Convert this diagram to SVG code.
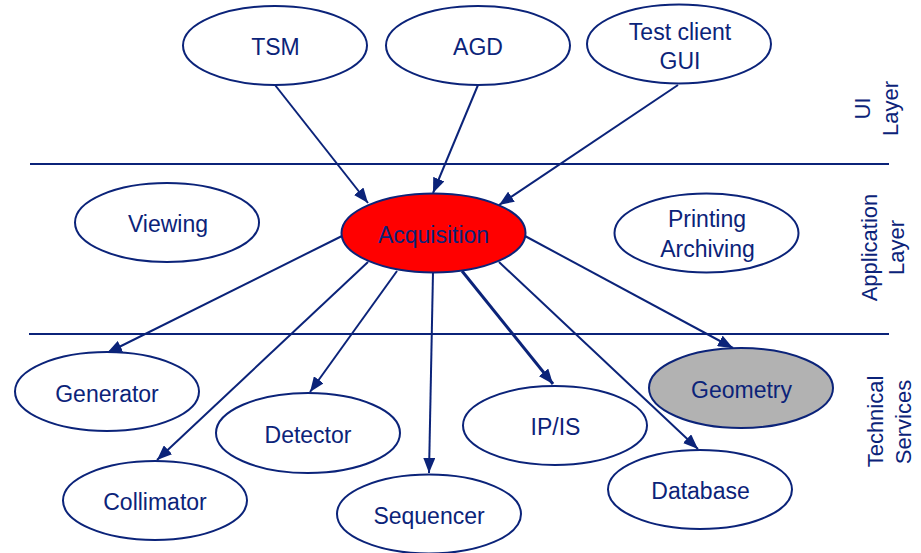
<svg xmlns="http://www.w3.org/2000/svg" width="921" height="553" viewBox="0 0 921 553">
  <style>
    .node ellipse { fill: #ffffff; stroke: #0b2379; stroke-width: 2; }
    .label { font-family: "Liberation Sans", Arial, sans-serif; font-size: 23px; fill: #0b2379; text-anchor: middle; }
    .side { font-family: "Liberation Sans", Arial, sans-serif; font-size: 22px; fill: #0b2379; text-anchor: middle; }
    .divider { stroke: #0b2379; stroke-width: 2; }
    .edge { stroke: #0b2379; stroke-width: 2; fill: none; marker-end: url(#arrow); }
  </style>
  <defs>
    <marker id="arrow" viewBox="0 0 15 12" refX="15" refY="6" markerWidth="15" markerHeight="12" markerUnits="userSpaceOnUse" orient="auto">
      <path d="M0,0 L15,6 L0,12 z" fill="#0b2379"/>
    </marker>
  </defs>

  <rect width="921" height="553" fill="#ffffff"/>

  <!-- layer dividers -->
  <g id="dividers">
    <line class="divider" x1="30" y1="164" x2="889" y2="164"/>
    <line class="divider" x1="29" y1="334" x2="889" y2="334"/>
  </g>

  <!-- layer names -->
  <g id="layer-labels">
    <text class="side" transform="translate(870,108.5) rotate(-90)">UI</text>
    <text class="side" transform="translate(898,108.5) rotate(-90)">Layer</text>
    <text class="side" transform="translate(877,247.5) rotate(-90)">Application</text>
    <text class="side" transform="translate(904,247.5) rotate(-90)">Layer</text>
    <text class="side" transform="translate(883,421.5) rotate(-90)">Technical</text>
    <text class="side" transform="translate(911,422) rotate(-90)">Services</text>
  </g>

  <!-- connectors -->
  <g id="connectors">
    <line class="edge" x1="275" y1="85" x2="368" y2="203"/>
    <line class="edge" x1="478" y1="85" x2="433" y2="193"/>
    <line class="edge" x1="678" y1="85" x2="499" y2="205"/>
    <line class="edge" x1="342" y1="236" x2="107" y2="353"/>
    <line class="edge" x1="368" y1="262" x2="157" y2="460"/>
    <line class="edge" x1="397" y1="271" x2="310" y2="392"/>
    <line class="edge" x1="433" y1="272" x2="429" y2="473"/>
    <line class="edge" x1="462" y1="271" x2="553" y2="384" style="stroke-width:3"/>
    <line class="edge" x1="499" y1="262" x2="698" y2="449"/>
    <line class="edge" x1="525" y1="236" x2="733" y2="348"/>
  </g>

  <!-- UI layer -->
  <g id="tsm" class="node">
    <ellipse cx="275" cy="45.5" rx="92" ry="39.5"/>
    <text class="label" x="275.5" y="55">TSM</text>
  </g>
  <g id="agd" class="node">
    <ellipse cx="478" cy="45.5" rx="92" ry="39.5"/>
    <text class="label" x="478" y="55">AGD</text>
  </g>
  <g id="test-client-gui" class="node">
    <ellipse cx="679" cy="44" rx="92" ry="39.5"/>
    <text class="label" x="680" y="40">Test client</text>
    <text class="label" x="680" y="69">GUI</text>
  </g>

  <!-- application layer -->
  <g id="viewing" class="node">
    <ellipse cx="167" cy="222.5" rx="92" ry="39.5"/>
    <text class="label" x="168" y="232">Viewing</text>
  </g>
  <g id="acquisition" class="node">
    <ellipse cx="433.5" cy="233" rx="92" ry="39.5" style="fill:#ff0000"/>
    <text class="label" x="433.5" y="243">Acquisition</text>
  </g>
  <g id="printing-archiving" class="node">
    <ellipse cx="706.5" cy="233" rx="92" ry="39.5"/>
    <text class="label" x="707" y="227">Printing</text>
    <text class="label" x="707.5" y="257">Archiving</text>
  </g>

  <!-- technical services -->
  <g id="generator" class="node">
    <ellipse cx="107" cy="391.5" rx="92" ry="39.5"/>
    <text class="label" x="107" y="401.5">Generator</text>
  </g>
  <g id="detector" class="node">
    <ellipse cx="308" cy="433" rx="92" ry="40"/>
    <text class="label" x="308" y="442.5">Detector</text>
  </g>
  <g id="collimator" class="node">
    <ellipse cx="155" cy="500.5" rx="92" ry="39.5"/>
    <text class="label" x="155" y="510">Collimator</text>
  </g>
  <g id="sequencer" class="node">
    <ellipse cx="429" cy="514" rx="92" ry="39.5"/>
    <text class="label" x="429" y="523.5">Sequencer</text>
  </g>
  <g id="ip-is" class="node">
    <ellipse cx="555" cy="425.5" rx="92" ry="39.5"/>
    <text class="label" x="555.5" y="435">IP/IS</text>
  </g>
  <g id="geometry" class="node">
    <ellipse cx="741" cy="388" rx="92" ry="40" style="fill:#b2b2b2"/>
    <text class="label" x="741.5" y="397.5">Geometry</text>
  </g>
  <g id="database" class="node">
    <ellipse cx="700" cy="489.5" rx="92" ry="39.5"/>
    <text class="label" x="700.5" y="499">Database</text>
  </g>
</svg>
